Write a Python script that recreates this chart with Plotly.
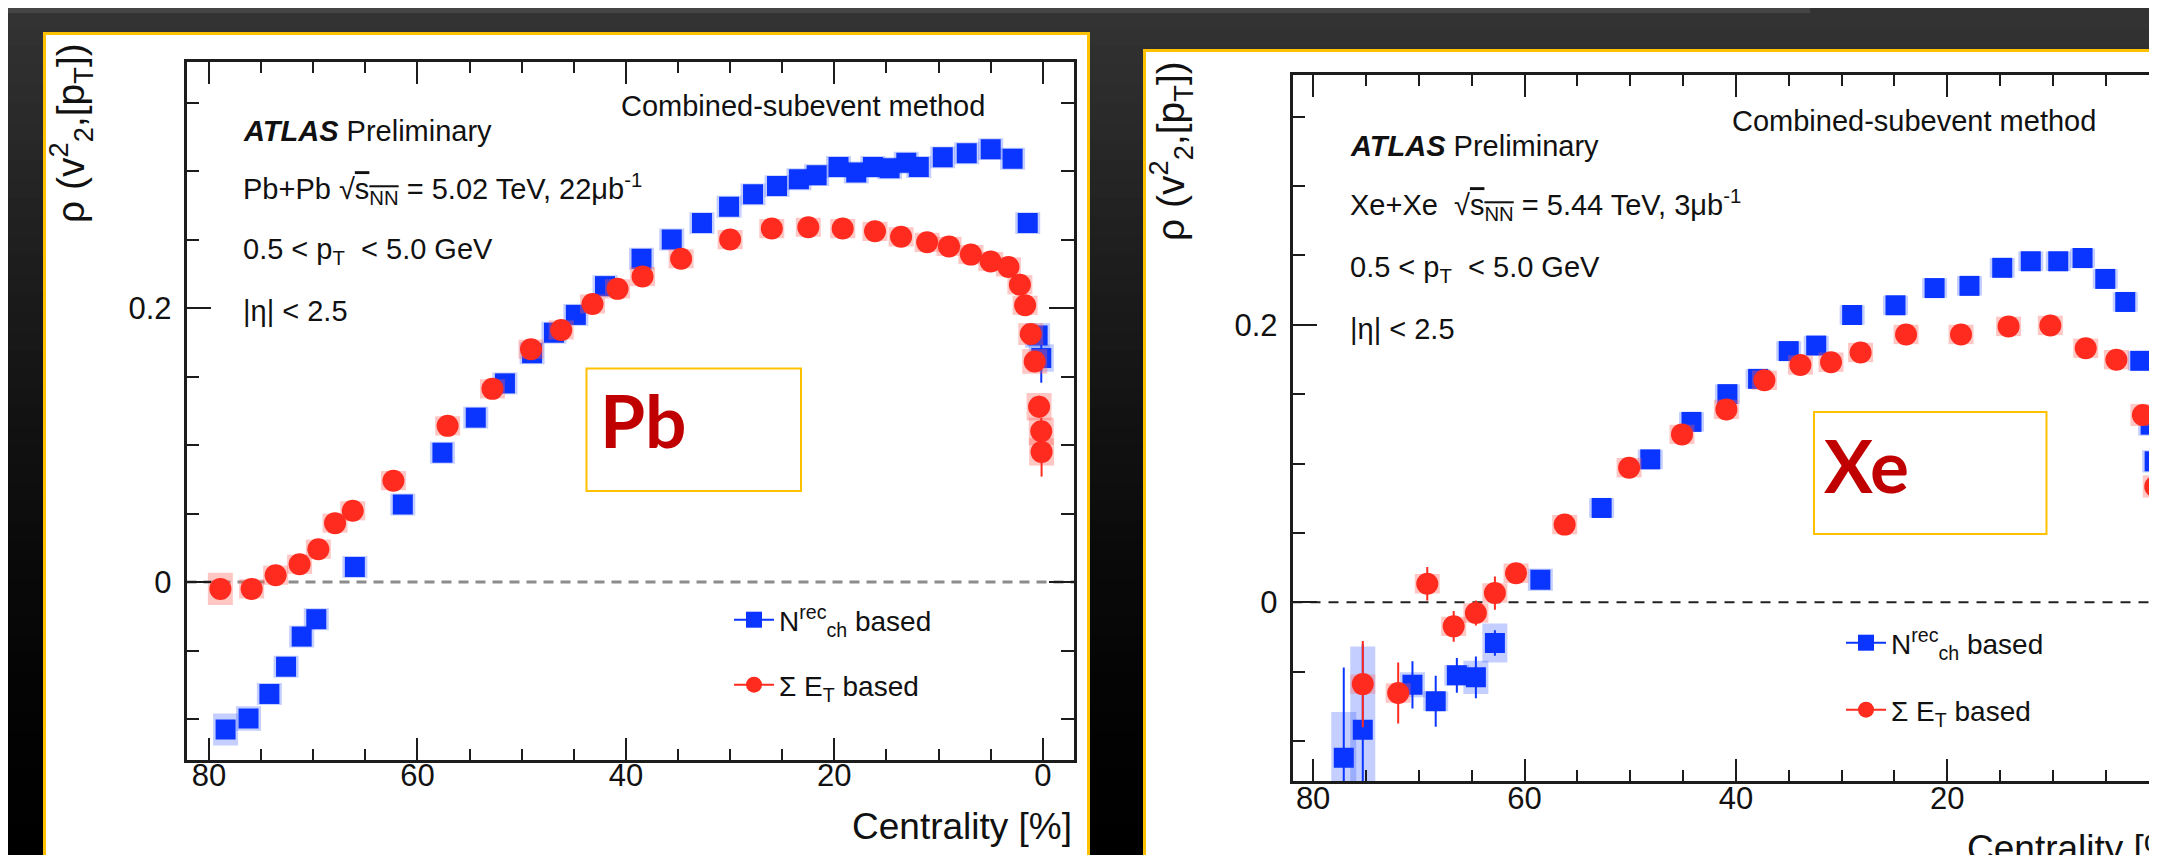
import plotly.graph_objects as go

W, H = 2157, 855
FONT = "Liberation Sans, Arial, Helvetica, sans-serif"
BLUE = "#0A34FF"
RED = "#FF2B1F"
BLUE_SYS = "rgba(60,95,255,0.30)"
RED_SYS = "rgba(255,95,85,0.35)"

# ---------------- Pb+Pb : N_ch^rec based ----------------
pb_nch_cent = [78.4, 76.2, 74.2, 72.6, 71.1, 69.7, 66.0, 61.4, 57.6, 54.4, 51.6, 49.0,
               46.9, 44.8, 42.0, 38.5, 35.6, 32.7, 30.1, 27.8, 25.5, 23.4, 21.7, 19.6,
               17.9, 16.3, 14.7, 13.1, 11.9, 9.6, 7.3, 5.0, 2.9, 1.45, 0.5, 0.15]
pb_nch_rho = [-0.1076, -0.0996, -0.0817, -0.0618, -0.0398, -0.0271, 0.011, 0.0566, 0.0944,
              0.120, 0.145, 0.167, 0.182, 0.195, 0.216, 0.236, 0.250, 0.262, 0.274, 0.283,
              0.289, 0.294, 0.297, 0.303, 0.299, 0.303, 0.302, 0.306, 0.303, 0.310, 0.313,
              0.316, 0.309, 0.262, 0.180, 0.1635]
pb_nch_stat = [0.003, 0.003, 0.003, 0.003, 0.003, 0.003, 0.002, 0.002, 0.002, 0.002, 0.002, 0.002,
               0.002, 0.002, 0.002, 0.002, 0.002, 0.002, 0.002, 0.002, 0.002, 0.002, 0.002, 0.002,
               0.002, 0.002, 0.002, 0.002, 0.002, 0.002, 0.002, 0.002, 0.002, 0.003, 0.006, 0.018]
pb_nch_syst = [0.0117, 0.009, 0.008, 0.008, 0.008, 0.008, 0.008, 0.008, 0.008, 0.008, 0.008, 0.008,
               0.008, 0.008, 0.008, 0.008, 0.008, 0.008, 0.008, 0.008, 0.008, 0.008, 0.008, 0.008,
               0.008, 0.008, 0.008, 0.008, 0.008, 0.008, 0.008, 0.008, 0.008, 0.008, 0.009, 0.010]

# ---------------- Pb+Pb : Sum E_T based ----------------
pb_et_cent = [78.9, 75.9, 73.6, 71.3, 69.5, 67.9, 66.2, 62.3, 57.1, 52.8, 49.1, 46.2,
              43.2, 40.8, 38.4, 34.7, 30.0, 26.0, 22.5, 19.2, 16.1, 13.6, 11.1, 9.0,
              6.9, 5.0, 3.3, 2.2, 1.7, 1.16, 0.78, 0.36, 0.15, 0.12]
pb_et_rho = [-0.005, -0.005, 0.005, 0.013, 0.024, 0.043, 0.052, 0.074, 0.114, 0.141, 0.170, 0.184,
             0.203, 0.214, 0.223, 0.236, 0.250, 0.258, 0.259, 0.258, 0.256, 0.252, 0.248, 0.245,
             0.239, 0.234, 0.230, 0.217, 0.202, 0.181, 0.161, 0.128, 0.110, 0.095]
pb_et_stat = [0.003, 0.003, 0.003, 0.003, 0.002, 0.002, 0.002, 0.002, 0.002, 0.002, 0.002, 0.002,
              0.002, 0.002, 0.002, 0.002, 0.002, 0.002, 0.002, 0.002, 0.002, 0.002, 0.002, 0.002,
              0.002, 0.002, 0.002, 0.003, 0.003, 0.004, 0.005, 0.008, 0.010, 0.018]
pb_et_syst = [0.0117, 0.007, 0.007, 0.007, 0.007, 0.007, 0.007, 0.007, 0.007, 0.007, 0.007, 0.007,
              0.007, 0.007, 0.007, 0.007, 0.007, 0.007, 0.007, 0.007, 0.007, 0.007, 0.007, 0.007,
              0.007, 0.007, 0.007, 0.007, 0.007, 0.008, 0.009, 0.010, 0.010, 0.010]

# ---------------- Xe+Xe : N_ch^rec based ----------------
xe_nch_cent = [77.1, 75.3, 70.6, 68.4, 66.4, 64.6, 62.8, 58.5, 52.7, 48.1, 44.2, 40.8, 37.9, 35.0,
               32.4, 29.0, 24.9, 21.2, 17.9, 14.8, 12.1, 9.5, 7.2, 5.05, 3.16, 1.74, 0.76, 0.38]
xe_nch_rho = [-0.112, -0.0918, -0.0594, -0.0713, -0.0526, -0.054, -0.0293, 0.0163, 0.068, 0.103,
              0.130, 0.150, 0.161, 0.181, 0.185, 0.207, 0.214, 0.2264, 0.228, 0.241, 0.2457,
              0.2457, 0.248, 0.233, 0.2164, 0.174, 0.128, 0.1016]
xe_nch_stat = [0.065, 0.062, 0.017, 0.0184, 0.0125, 0.015, 0.0092, 0.004, 0.003, 0.003, 0.003, 0.003,
               0.003, 0.003, 0.003, 0.003, 0.003, 0.003, 0.003, 0.003, 0.003, 0.003, 0.003, 0.003,
               0.004, 0.005, 0.010, 0.023]
xe_nch_syst = [0.033, 0.060, 0.009, 0.007, 0.0075, 0.012, 0.014, 0.008, 0.007, 0.007, 0.007, 0.007,
               0.007, 0.007, 0.007, 0.007, 0.007, 0.007, 0.007, 0.007, 0.007, 0.007, 0.007, 0.007,
               0.007, 0.007, 0.008, 0.008]

# ---------------- Xe+Xe : Sum E_T based ----------------
xe_et_cent = [75.3, 71.95, 69.2, 66.7, 64.6, 62.8, 60.8, 56.2, 50.1, 45.1, 40.9, 37.3, 33.9, 31.0,
              28.2, 23.9, 18.7, 14.2, 10.25, 6.9, 4.0, 1.49, 0.32]
xe_et_rho = [-0.0589, -0.0653, 0.0134, -0.0173, -0.0077, 0.0067, 0.021, 0.056, 0.097, 0.121, 0.139,
             0.160, 0.171, 0.173, 0.180, 0.193, 0.193, 0.1988, 0.1995, 0.183, 0.1748, 0.135, 0.0835]
xe_et_stat = [0.031, 0.022, 0.012, 0.011, 0.009, 0.012, 0.006, 0.004, 0.003, 0.003, 0.003, 0.003,
              0.003, 0.003, 0.003, 0.003, 0.003, 0.003, 0.003, 0.003, 0.003, 0.005, 0.008]
xe_et_syst = [0.007, 0.007, 0.007, 0.007, 0.007, 0.007, 0.007, 0.007, 0.007, 0.007, 0.007, 0.007,
              0.007, 0.007, 0.007, 0.007, 0.007, 0.007, 0.007, 0.007, 0.007, 0.008, 0.008]

legend_names = ["N<sup>rec</sup><sub>ch</sub> based", "Σ E<sub>T</sub> based"]
x_title = "Centrality [%]"
y_title = "ρ (v<sup>2</sup><sub>2</sub>,[p<sub>T</sub>])"


def px(x):
    return x / W


def py(y):
    return 1 - y / H


fig = go.Figure()


def add_series(cent, rho, stat, syst, color, sys_color, symbol, size, xa, ya):
    fig.add_trace(go.Scatter(
        x=cent, y=rho, mode="markers", xaxis=xa, yaxis=ya, showlegend=False,
        marker=dict(size=1, color="rgba(0,0,0,0)"), hoverinfo="skip",
        error_y=dict(type="data", array=syst, visible=True, thickness=25, width=0, color=sys_color)))
    fig.add_trace(go.Scatter(
        x=cent, y=rho, mode="markers", xaxis=xa, yaxis=ya, showlegend=False,
        marker=dict(symbol=symbol, size=size, color=color, line=dict(width=0)),
        error_y=dict(type="data", array=stat, visible=True, thickness=2, width=0, color=color)))


add_series(pb_nch_cent, pb_nch_rho, pb_nch_stat, pb_nch_syst, BLUE, BLUE_SYS, "square", 20, "x", "y")
add_series(pb_et_cent, pb_et_rho, pb_et_stat, pb_et_syst, RED, RED_SYS, "circle", 22, "x", "y")
add_series(xe_nch_cent, xe_nch_rho, xe_nch_stat, xe_nch_syst, BLUE, BLUE_SYS, "square", 20, "x2", "y2")
add_series(xe_et_cent, xe_et_rho, xe_et_stat, xe_et_syst, RED, RED_SYS, "circle", 22, "x2", "y2")

# legend entries (one legend per entry so each can be placed like the original)
legend_specs = [
    ("legend", legend_names[0], BLUE, "square", "x", "y"),
    ("legend2", legend_names[1], RED, "circle", "x", "y"),
    ("legend3", legend_names[0], BLUE, "square", "x2", "y2"),
    ("legend4", legend_names[1], RED, "circle", "x2", "y2"),
]
for lg, name, col, sym, xa, ya in legend_specs:
    fig.add_trace(go.Scatter(
        x=[None], y=[None], mode="lines+markers", name=name, legend=lg, xaxis=xa, yaxis=ya,
        marker=dict(symbol=sym, size=20, color=col), line=dict(color=col, width=2)))

FRAME = "#1c1c1c"


def xaxis_style(domain, rng, anchor, mirror, standoff):
    return dict(domain=domain, range=rng, anchor=anchor, showline=True, linecolor=FRAME, linewidth=2.5,
                mirror=mirror, ticks="inside", ticklen=22, tickwidth=2, tickcolor=FRAME,
                dtick=20, tick0=0, showgrid=False, zeroline=False,
                minor=dict(ticks="inside", ticklen=11, tickwidth=2, tickcolor=FRAME, dtick=5, tick0=0,
                           showgrid=False),
                tickfont=dict(family=FONT, size=31, color="#111"), ticklabelstandoff=standoff)


def yaxis_style(domain, rng, anchor, mirror):
    return dict(domain=domain, range=rng, anchor=anchor, showline=True, linecolor=FRAME, linewidth=2.5,
                mirror=mirror, ticks="inside", ticklen=25, tickwidth=2, tickcolor=FRAME,
                dtick=0.2, tick0=0, showgrid=False, zeroline=False,
                minor=dict(ticks="inside", ticklen=13, tickwidth=2, tickcolor=FRAME, dtick=0.05, tick0=0,
                           showgrid=False),
                tickfont=dict(family=FONT, size=31, color="#111"), ticklabelstandoff=6)


# geometry (pixels)
L = dict(x0=178.5, x1=1066, y0=54, y1=752)
R = dict(x0=1284.5, x1=2157, y0=67, y1=773)

fig.update_layout(
    width=W, height=H, margin=dict(l=0, r=0, t=0, b=0),
    paper_bgcolor="#000000", plot_bgcolor="#FFFFFF",
    xaxis=xaxis_style([px(L["x0"]), px(L["x1"])], [82.15, -2.99], "y", "ticks", -14),
    yaxis=yaxis_style([py(L["y1"]), py(L["y0"])], [-0.1299, 0.3796], "x", "ticks"),
    xaxis2=xaxis_style([px(R["x0"]), 1.0], [81.95, -0.6], "y2", "ticks", -12),
    yaxis2=yaxis_style([py(R["y1"]), py(R["y0"])], [-0.1287, 0.3799], "x2", False),
    showlegend=True,
)

leg_font = dict(family=FONT, size=28, color="#111")
leg_pos = {"legend": (721, 612), "legend2": (721, 677), "legend3": (1833, 635), "legend4": (1833, 702)}
for lg, (lx, ly) in leg_pos.items():
    fig.update_layout({lg: dict(x=px(lx), y=py(ly), xanchor="left", yanchor="middle",
                                bgcolor="rgba(0,0,0,0)", borderwidth=0, font=leg_font,
                                itemwidth=40)})

shapes = []
# slide background gradient
N = 45
for i in range(N):
    t = (i + 0.5) / N
    lvl = int(round(52 * (1 - t) ** 1.6))
    shapes.append(dict(type="rect", xref="paper", yref="paper", x0=0, x1=1,
                       y0=1 - (i + 1) / N, y1=1 - i / N, fillcolor=f"rgb({lvl},{lvl},{lvl})",
                       line=dict(width=0), layer="below"))
shapes.append(dict(type="rect", xref="paper", yref="paper", x0=0, x1=px(1802), y0=py(5), y1=1,
                   fillcolor="#454545", line=dict(width=0), layer="below"))
# white panels with gold borders
shapes.append(dict(type="rect", xref="paper", yref="paper", x0=px(36.5), x1=px(1080.5), y0=py(880), y1=py(25.5),
                   fillcolor="#FFFFFF", line=dict(color="#FFC000", width=3), layer="below"))
shapes.append(dict(type="rect", xref="paper", yref="paper", x0=px(1136.5), x1=px(2200), y0=py(900), y1=py(42.5),
                   fillcolor="#FFFFFF", line=dict(color="#FFC000", width=3), layer="below"))
# zero reference lines
shapes.append(dict(type="line", xref="x domain", yref="y", x0=0, x1=1, y0=0, y1=0,
                   line=dict(color="#8c8c8c", width=3, dash="10px,7px"), layer="below"))
shapes.append(dict(type="line", xref="x2 domain", yref="y2", x0=0, x1=1, y0=0, y1=0,
                   line=dict(color="#222222", width=2, dash="10px,8px"), layer="below"))
# nucleus label boxes
shapes.append(dict(type="rect", xref="paper", yref="paper", x0=px(578.5), x1=px(793), y0=py(483), y1=py(360.5),
                   fillcolor="rgba(0,0,0,0)", line=dict(color="#FFC000", width=2), layer="above"))
shapes.append(dict(type="rect", xref="paper", yref="paper", x0=px(1806), x1=px(2038.5), y0=py(526), y1=py(404),
                   fillcolor="rgba(0,0,0,0)", line=dict(color="#FFC000", width=2), layer="above"))

txt = dict(family=FONT, size=29, color="#111")
ann = []


def add_text(text, x, y, xanchor="left", yanchor="middle", font=txt, angle=0):
    ann.append(dict(text=text, x=px(x), y=py(y), xref="paper", yref="paper", xanchor=xanchor,
                    yanchor=yanchor, showarrow=False, font=font, textangle=angle))


sqrt_s = "√<span style='text-decoration:overline'>s<sub>NN</sub></span>"
# left panel
add_text("Combined-subevent method", 611, 98)
add_text("<b><i>ATLAS</i></b> Preliminary", 232.5, 123)
add_text("Pb+Pb " + sqrt_s + " = 5.02 TeV, 22μb<sup>-1</sup>", 232.5, 181)
add_text("0.5 < p<sub>T</sub>  < 5.0 GeV", 232.5, 243)
add_text("|η| < 2.5", 232.5, 303)
# right panel
add_text("Combined-subevent method", 1722, 113)
add_text("<b><i>ATLAS</i></b> Preliminary", 1339.5, 138)
add_text("Xe+Xe  " + sqrt_s + " = 5.44 TeV, 3μb<sup>-1</sup>", 1339.5, 197)
add_text("0.5 < p<sub>T</sub>  < 5.0 GeV", 1339.5, 261)
add_text("|η| < 2.5", 1339.5, 321)

title_font = dict(family=FONT, size=37, color="#111")
ytitle_font = dict(family=FONT, size=39, color="#111")
add_text(x_title, 1066, 818, xanchor="right", font=title_font)
add_text(x_title, 2181, 840, xanchor="right", font=title_font)
add_text(y_title, 63, 33, xanchor="center", yanchor="top", font=ytitle_font, angle=-90)
add_text(y_title, 1163, 51, xanchor="center", yanchor="top", font=ytitle_font, angle=-90)

big = dict(family="Lato, Open Sans, sans-serif", size=73, color="#C00000", weight="bold")
add_text("Pb", 590, 412, font=big)
add_text("Xe", 1814, 457, font=big)

fig.update_layout(shapes=shapes, annotations=ann)
fig.write_html("out.html")
